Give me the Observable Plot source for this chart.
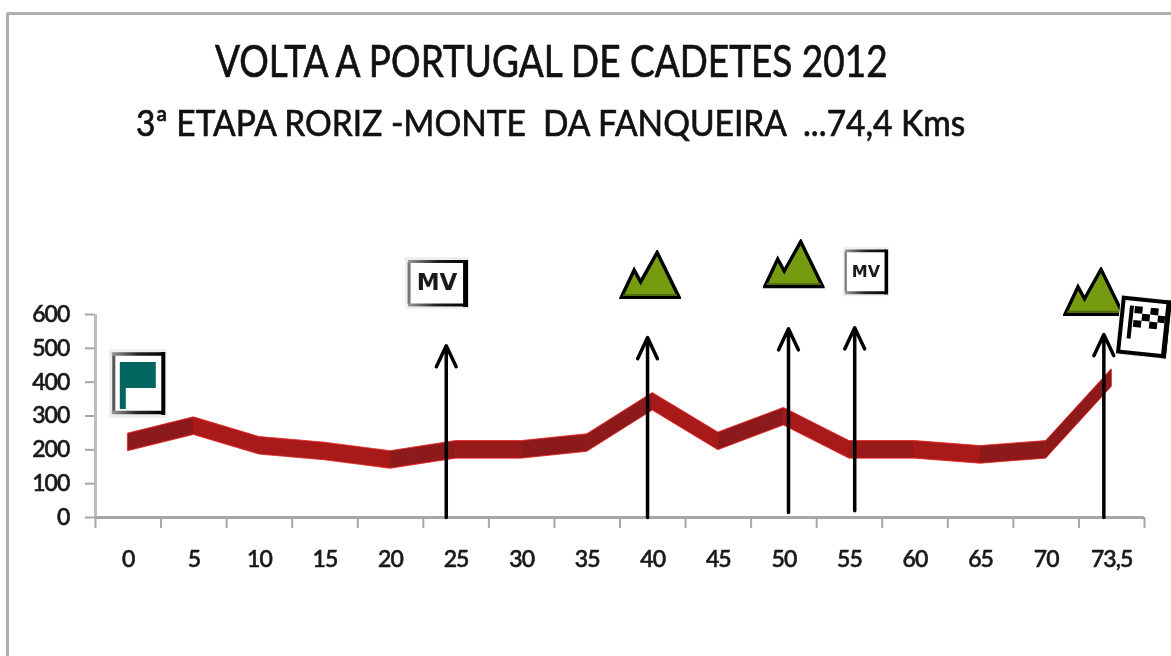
<!DOCTYPE html>
<html><head><meta charset="utf-8">
<script src="https://cdn.jsdelivr.net/npm/d3@7"></script>
<script src="https://cdn.jsdelivr.net/npm/@observablehq/plot@0.6"></script>
<style>
html,body{margin:0;padding:0;background:#fff}
#wrap{position:relative;width:1171px;height:656px;overflow:hidden}
#frame{position:absolute;left:6px;top:12px;width:1180px;height:700px;border:3px solid #b0b0b0;border-radius:2px;box-sizing:border-box}
.t{position:absolute;font-family:Lato,sans-serif;color:#111;white-space:nowrap;transform-origin:0 0;-webkit-text-stroke:.7px #111;filter:blur(.45px)}
#title{left:215px;top:34px;font-size:44px;transform:scaleX(.84)}
#sub{left:136px;top:100px;font-size:36px;transform:scaleX(.93)}
#chart{position:absolute;left:0;top:0;filter:blur(.45px)}
g[aria-label$="tick label"]{letter-spacing:-.9px;stroke:#1a1a1a;stroke-width:.6px}
</style></head><body>
<div id="wrap"><div id="frame"></div>
<div id="chart"></div>
<div class="t" id="title">VOLTA A PORTUGAL DE CADETES 2012</div>
<div class="t" id="sub">3ª ETAPA RORIZ -MONTE&nbsp; DA FANQUEIRA&nbsp; ...74,4 Kms</div>
</div>
<script>
const kmLabels = ["0","5","10","15","20","25","30","35","40","45","50","55","60","65","70","73,5"];
const altitude = [222,270,212,195,170,200,200,220,342,225,298,200,200,185,200,412];
const kmIndex = kmLabels.map((_, i) => i);
const tickEdges = [-0.5,0.5,1.5,2.5,3.5,4.5,5.5,6.5,7.5,8.5,9.5,10.5,11.5,12.5,13.5,14.5,15.5];
const yTicks = [0,100,200,300,400,500,600];
const ribbonHalf = 26;
const arrowX = [4.85,7.92,10.07,11.08,14.88];
const arrowBase = [0,0,15,20,0];
const arrowTop = [508,532,558,561,541];
const mvX = [4.71,11.25];
const mvY = [693,727];
const mvW = [64,46];
const mvH = [52,50];
const mvFont = [23,16];
const mountainX = [7.96,10.15,14.73];
const mountainY = [717,749,667];
const flagX = [0.145];
const flagY = [396];
const checkX = [15.49];
const checkY = [563];

const segments = kmIndex.slice(1).flatMap(i => [
  {seg: i, x: i - 1, a: altitude[i - 1], rise: altitude[i] - altitude[i - 1]},
  {seg: i, x: i, a: altitude[i], rise: altitude[i] - altitude[i - 1]}
]);
const segColor = d => d.rise > 5 ? "#8c1a1a" : d.rise < -5 ? "#a81a1a" : "#981a1a";

const svgUri = s => "data:image/svg+xml;utf8," + encodeURIComponent(s);
const grad = `<defs><linearGradient id="g" x1="0" y1="0" x2="1" y2="0"><stop offset="0" stop-color="#999"/><stop offset=".5" stop-color="#222"/><stop offset="1" stop-color="#000"/></linearGradient></defs>`;
const mountain = svgUri(`<svg xmlns="http://www.w3.org/2000/svg" viewBox="0 0 62 50"><path d="M2 47.5 L15 20 L21.500 32 L38 2.500 L60 47.5 Z" fill="#759c10" stroke="#000" stroke-width="3.400" stroke-linejoin="miter"/><path d="M4 45H58" stroke="#4f6b0c" stroke-width="2"/></svg>`);
const box = svgUri(`<svg xmlns="http://www.w3.org/2000/svg" viewBox="0 0 64 52" preserveAspectRatio="none">${grad}<rect width="64" height="52" fill="#efefef"/><rect x="3" y="3" width="59" height="47" fill="#fff"/><path d="M4 5V47" stroke="#777" stroke-width="3"/><path d="M3 4.500H60M3 48H60" stroke="url(#g)" stroke-width="3"/><path d="M60.500 3V50" stroke="#000" stroke-width="5"/></svg>`);
const startFlag = svgUri(`<svg xmlns="http://www.w3.org/2000/svg" viewBox="0 0 58 69">${grad}<rect width="58" height="69" fill="#eee"/><rect x="4" y="4" width="51" height="61" fill="#fff"/><path d="M5 5V63" stroke="#555" stroke-width="3"/><path d="M3 5H56M3 63.500H56" stroke="url(#g)" stroke-width="3.500"/><path d="M54.500 3V66" stroke="#000" stroke-width="4"/><path d="M11 13H47V39H17V60H11Z" fill="#00665f"/></svg>`);
const checkFlag = svgUri(`<svg xmlns="http://www.w3.org/2000/svg" viewBox="0 0 60 70"><g transform="rotate(6 30 35)"><rect x="4" y="5" width="52" height="60" fill="#eee"/><rect x="7" y="8" width="46" height="54" fill="#fff" stroke="#000" stroke-width="4"/><path d="M50 6H55V64H50Z" fill="#000"/><path d="M14 15H18V48H14Z M19 15H27V22H19Z M35 15H43V22H35Z M27 22H35V29H27Z M43 22H50V29H43Z M19 29H27V36H19Z M35 29H43V36H35Z" fill="#000"/></g></svg>`);

const plot = Plot.plot({
  width: 1171, height: 656,
  marginLeft: 95, marginRight: 27, marginTop: 314, marginBottom: 139,
  style: {background: "transparent", overflow: "visible", fontFamily: "Lato, sans-serif"},
  x: {type: "linear", domain: [-0.5, 15.5], axis: null},
  y: {domain: [0, 600], axis: null},
  marks: [
    Plot.axisX({ticks: kmIndex, tickFormat: i => kmLabels[i], tickSize: 0, tickPadding: 33, fontSize: 23, fontWeight: 500, fill: "#1a1a1a", label: null, ariaLabel: "x-axis tick label"}),
    Plot.axisX({ticks: tickEdges, tickFormat: () => "", tickSize: 11, tickPadding: 0, stroke: "#a6a6a6", strokeWidth: 2, strokeOpacity: 1, label: null}),
    Plot.axisY({ticks: yTicks, tickSize: 10, tickPadding: 16, fontSize: 23, fontWeight: 500, fill: "#1a1a1a", stroke: "#a6a6a6", strokeWidth: 2, strokeOpacity: 1, label: null}),
    Plot.ruleX([-0.5], {y1: 0, y2: 600, stroke: "#bdbdbd", strokeWidth: 3}),
    Plot.ruleY([0], {x1: -0.5, x2: 15.5, stroke: "#a6a6a6", strokeWidth: 3}),
    Plot.areaY(kmIndex, {x: d => d, y1: d => altitude[d] - ribbonHalf, y2: d => altitude[d] + ribbonHalf, fill: "#d81e1e", stroke: "#d81e1e", strokeWidth: 0.8, curve: "linear"}),
    Plot.areaY(segments, {x: "x", y1: d => d.a - ribbonHalf + 2, y2: d => d.a + ribbonHalf - 2, z: "seg", fill: segColor, curve: "linear"}),
    Plot.arrow(arrowX.map((_, i) => i), {x1: i => arrowX[i], x2: i => arrowX[i], y1: i => arrowBase[i], y2: i => arrowTop[i], stroke: "#000", strokeWidth: 3.5, headLength: 10, headAngle: 50, bend: 0, insetStart: 0, insetEnd: 0}),
    Plot.image(mountainX.map((_, i) => i), {x: i => mountainX[i], y: i => mountainY[i], src: () => mountain, width: 62, height: 50, preserveAspectRatio: "none"}),
    Plot.image(mvX.map((_, i) => i), {x: i => mvX[i], y: i => mvY[i], src: () => box, width: i => mvW[i], height: i => mvH[i], preserveAspectRatio: "none"}),
    Plot.text(mvX.map((_, i) => i), {x: i => mvX[i], y: i => mvY[i], text: () => "MV", fontSize: i => mvFont[i], fontWeight: 800, fontFamily: "DejaVu Sans, sans-serif", fill: "#1a1a1a"}),
    Plot.image(flagX, {x: d => d, y: () => flagY[0], src: () => startFlag, width: 58, height: 69, preserveAspectRatio: "none"}),
    Plot.image(checkX, {x: d => d, y: () => checkY[0], src: () => checkFlag, width: 60, height: 70, preserveAspectRatio: "none"})
  ]
});
document.getElementById("chart").appendChild(plot);
</script></body></html>
